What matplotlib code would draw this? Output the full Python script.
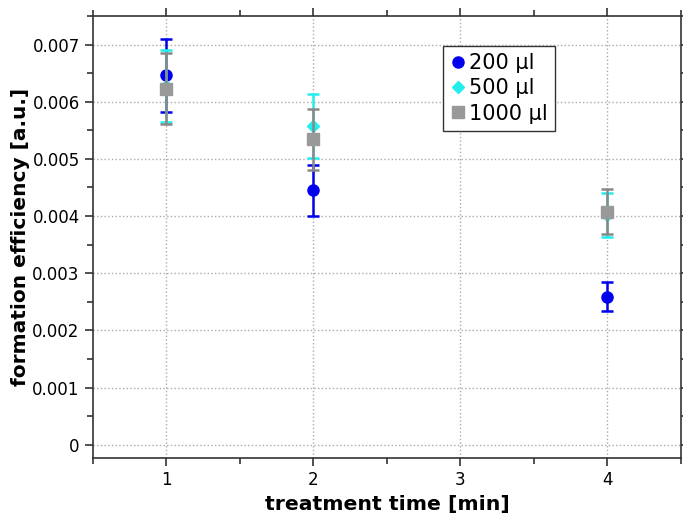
import numpy as np
import matplotlib
matplotlib.use("Agg")
import matplotlib.pyplot as plt
from matplotlib.lines import Line2D
from matplotlib.ticker import MultipleLocator

# treatment times [min]
time = [1, 2, 4]

eff_200 = [0.00646, 0.00445, 0.00259]
err_200 = [0.00064, 0.00044, 0.00025]

eff_500 = [0.00628, 0.00557, 0.00402]
err_500 = [0.00063, 0.00056, 0.00039]

eff_1000 = [0.00623, 0.00534, 0.00408]
err_1000 = [0.00062, 0.00053, 0.00040]

labels = ['200 µl', '500 µl', '1000 µl']
colors = ['#0000ee', '#22eeee', '#999999']
markers = ['o', 'D', 's']
msizes = [8, 6, 8]

fig = plt.figure(figsize=(6.83, 5.14), dpi=100)
ax = fig.add_axes([0.136, 0.109, 0.861, 0.860])

series = [(eff_200, err_200), (eff_500, err_500), (eff_1000, err_1000)]
for i, (y, e) in enumerate(series):
    ecol = '#888888' if i == 2 else colors[i]
    ax.errorbar(time, y, yerr=e, fmt=markers[i], color=colors[i], ecolor=ecol,
                markersize=msizes[i], elinewidth=1.8, capsize=4, capthick=1.8,
                zorder=3 + i)

ax.set_xlim(0.5, 4.5)
ax.set_ylim(-0.00023, 0.0075)
ax.xaxis.set_major_locator(MultipleLocator(1))
ax.xaxis.set_minor_locator(MultipleLocator(0.5))
ax.yaxis.set_minor_locator(MultipleLocator(0.0005))
ax.set_yticks(np.arange(0, 0.0071, 0.001))
ax.set_yticklabels(['0', '0.001', '0.002', '0.003', '0.004', '0.005', '0.006', '0.007'])

ax.tick_params(which='both', direction='out', top=True, right=True, labelsize=12,
               color='#333333')
ax.tick_params(which='major', length=6, width=1.2)
ax.tick_params(which='minor', length=4, width=1.2)
for s in ax.spines.values():
    s.set_color('#333333')
    s.set_linewidth(1.2)

ax.grid(True, which='major', linestyle=':', color='#aaaaaa', linewidth=1)

ax.set_xlabel('treatment time [min]', fontsize=14.7, fontweight='bold', labelpad=4.5)
ax.set_ylabel('formation efficiency [a.u.]', fontsize=14.5, fontweight='bold', labelpad=2)

# marker-only legend handles
handles = [Line2D([], [], linestyle='none', marker=m, color=c, markersize=ms)
           for m, c, ms in zip(markers, colors, msizes)]
ax.legend(handles, labels, loc='upper left', bbox_to_anchor=(0.595, 0.932), fontsize=15,
          handletextpad=0.1, handlelength=0.8, borderpad=0.35, labelspacing=0.25,
          borderaxespad=0, fancybox=False, framealpha=1, edgecolor='#333333')

fig.savefig('out.png', dpi=100)
